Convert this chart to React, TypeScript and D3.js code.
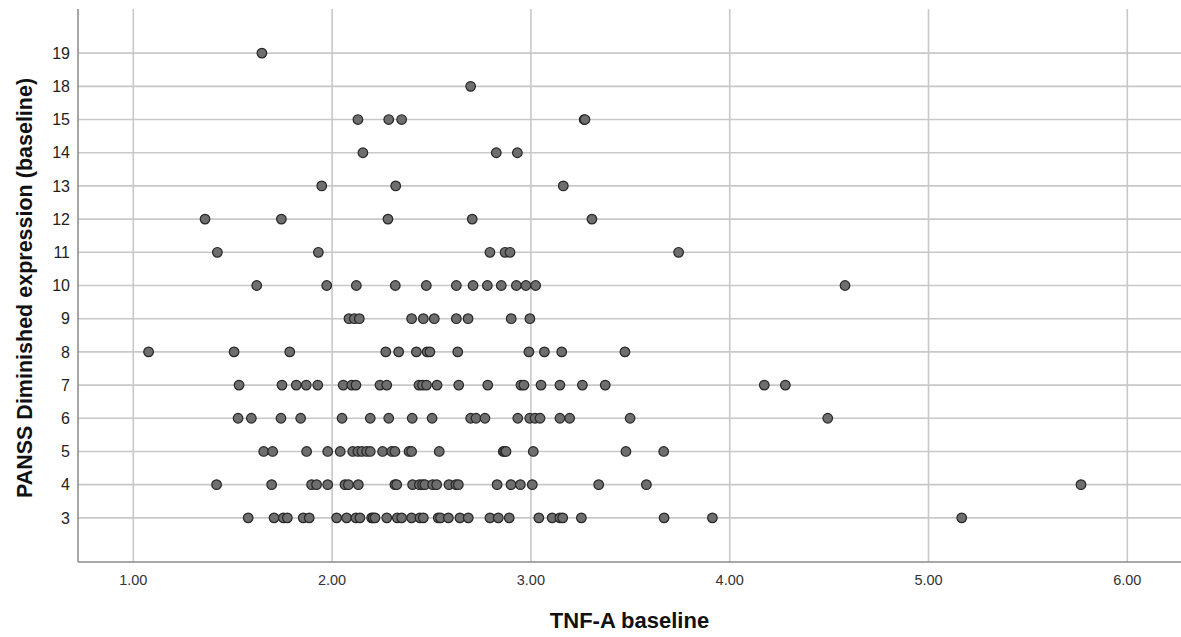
import React from "react";
import * as d3 from "d3";

// Y categories (PANSS Diminished expression), top to bottom
const yCategories = ["19", "18", "15", "14", "13", "12", "11", "10", "9", "8", "7", "6", "5", "4", "3"];
const xTicks = [1, 2, 3, 4, 5, 6];

// TNF-A baseline values for each PANSS score
const tnf19 = [1.647];
const tnf18 = [2.697];
const tnf15 = [2.13, 2.285, 2.35, 3.268, 3.272];
const tnf14 = [2.155, 2.826, 2.932];
const tnf13 = [1.948, 2.32, 3.163];
const tnf12 = [1.361, 1.745, 2.281, 2.705, 3.307];
const tnf11 = [1.423, 1.931, 2.794, 2.87, 2.895, 3.743];
const tnf10 = [1.621, 1.973, 2.122, 2.318, 2.474, 2.625, 2.709, 2.781, 2.851, 2.927, 2.975, 3.024, 4.58];
const tnf9 = [2.085, 2.112, 2.137, 2.4, 2.459, 2.514, 2.625, 2.684, 2.901, 2.995];
const tnf8 = [1.077, 1.507, 1.787, 2.27, 2.335, 2.424, 2.478, 2.492, 2.632, 2.99, 3.068, 3.155, 3.473];
const tnf7 = [1.532, 1.748, 1.82, 1.87, 1.928, 2.056, 2.099, 2.12, 2.241, 2.275, 2.437, 2.455, 2.475, 2.528, 2.637, 2.783, 2.95, 2.965, 3.051, 3.146, 3.259, 3.374, 4.174, 4.28];
const tnf6 = [1.527, 1.594, 1.743, 1.842, 2.05, 2.192, 2.285, 2.403, 2.503, 2.697, 2.724, 2.769, 2.934, 2.994, 3.021, 3.046, 3.146, 3.195, 3.499, 4.493];
const tnf5 = [1.656, 1.701, 1.872, 1.978, 2.041, 2.104, 2.13, 2.15, 2.174, 2.192, 2.254, 2.3, 2.316, 2.387, 2.4, 2.539, 2.861, 2.868, 2.875, 3.012, 3.478, 3.668];
const tnf4 = [1.419, 1.696, 1.897, 1.922, 1.978, 2.065, 2.082, 2.132, 2.316, 2.325, 2.405, 2.439, 2.455, 2.467, 2.506, 2.526, 2.588, 2.623, 2.635, 2.83, 2.9, 2.947, 3.007, 3.341, 3.581, 5.767];
const tnf3 = [1.578, 1.708, 1.755, 1.775, 1.855, 1.885, 2.023, 2.073, 2.12, 2.14, 2.199, 2.207, 2.216, 2.275, 2.328, 2.35, 2.4, 2.442, 2.459, 2.534, 2.545, 2.585, 2.643, 2.685, 2.794, 2.836, 2.891, 3.04, 3.107, 3.146, 3.16, 3.254, 3.67, 3.913, 5.167];

const rows: [string, number[]][] = [
  ["19", tnf19], ["18", tnf18], ["15", tnf15], ["14", tnf14], ["13", tnf13],
  ["12", tnf12], ["11", tnf11], ["10", tnf10], ["9", tnf9], ["8", tnf8],
  ["7", tnf7], ["6", tnf6], ["5", tnf5], ["4", tnf4], ["3", tnf3],
];

const W = 1181;
const H = 637;
const margin = { left: 78, right: 0, top: 9, bottom: 75 };
const FONT = "'Liberation Sans', Arial, sans-serif";

export default function App() {
  const x = d3.scaleLinear().domain([0.722, 6.27]).range([margin.left, W - margin.right]);
  const y = d3.scalePoint<string>().domain(yCategories).range([margin.top, H - margin.bottom]).padding(1.33);
  const points = rows.flatMap(([cat, vals]) => vals.map((v) => ({ cat, v })));
  const y0 = margin.top;
  const y1 = H - margin.bottom;
  const x0 = margin.left;
  const x1 = W - margin.right;

  return (
    <svg width={W} height={H} style={{ position: "absolute", left: 0, top: 0, background: "#fff" }} fontFamily={FONT}>
      <rect x={0} y={0} width={W} height={H} fill="#fff" />
      {/* horizontal gridlines */}
      {yCategories.map((c) => (
        <line key={"h" + c} x1={x0} x2={x1} y1={y(c)} y2={y(c)} stroke="#c8c8c8" strokeWidth={1.6} />
      ))}
      {/* vertical gridlines */}
      {xTicks.map((t) => (
        <line key={"v" + t} x1={x(t)} x2={x(t)} y1={y0} y2={y1} stroke="#c8c8c8" strokeWidth={1.6} />
      ))}
      {/* axes */}
      <line x1={x0} x2={x0} y1={y0} y2={y1} stroke="#8a8a8a" strokeWidth={1.5} />
      <line x1={x0} x2={x1} y1={y1} y2={y1} stroke="#8a8a8a" strokeWidth={1.5} />
      {/* y tick labels */}
      {yCategories.map((c) => (
        <text key={"yl" + c} x={x0 - 8} y={y(c)} dy="0.36em" textAnchor="end" fontSize={16} fill="#222">
          {c}
        </text>
      ))}
      {/* x tick labels */}
      {xTicks.map((t) => (
        <text key={"xl" + t} x={x(t)} y={y1 + 23} textAnchor="middle" fontSize={14.5} fill="#333">
          {d3.format(".2f")(t)}
        </text>
      ))}
      {/* points */}
      {points.map((p, i) => (
        <circle key={i} cx={x(p.v)} cy={y(p.cat)} r={4.8} fill="#6e6e6e" stroke="#262626" strokeWidth={1.2} />
      ))}
      {/* axis titles */}
      <text x={(x0 + x1) / 2} y={628} textAnchor="middle" fontSize={22} fontWeight="bold" fill="#111">
        TNF-A baseline
      </text>
      <text transform={`translate(32, 288) rotate(-90)`} textAnchor="middle" fontSize={21.5} fontWeight="bold" fill="#111">
        PANSS Diminished expression (baseline)
      </text>
    </svg>
  );
}
